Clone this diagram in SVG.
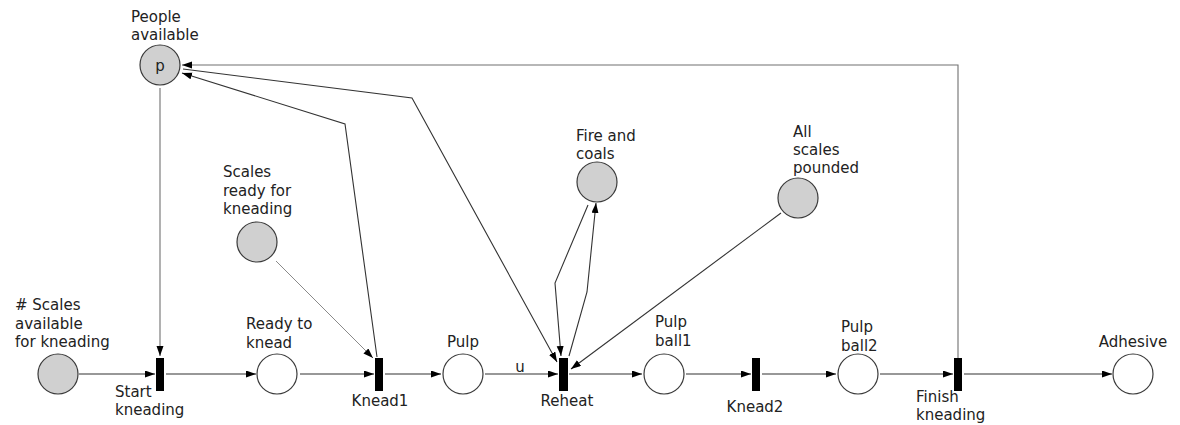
<svg xmlns="http://www.w3.org/2000/svg" width="1180" height="425" viewBox="0 0 1180 425">
<style>
.bg{fill:#ffffff}
.place{stroke:#3a3a3a;stroke-width:1.2;fill:#ffffff}
.res{fill:#d0d0d0}
.tr{fill:#000000}
.lbl{font-family:"DejaVu Sans",Verdana,sans-serif;font-size:15px;fill:#222222}
.mid{text-anchor:middle}
.arc{fill:none;stroke:#333333;stroke-width:1.1}
.gray{stroke:#707070}
.light{stroke:#8a8a8a;stroke-width:1}
</style>
<defs>
<marker id="ah" markerUnits="userSpaceOnUse" markerWidth="11" markerHeight="8" refX="10" refY="3.5" orient="auto">
<path d="M0,0 L10,3.5 L0,7 z" fill="#000000"/>
</marker>
</defs>
<rect class="bg" x="0" y="0" width="1180" height="425"/>

<g id="connectors">
<path class="arc" d="M79,374 H155" marker-end="url(#ah)"/>
<path class="arc gray" d="M160,88 V356" marker-end="url(#ah)"/>
<path class="arc" d="M166,374 H256" marker-end="url(#ah)"/>
<path class="arc" d="M300,374 H374" marker-end="url(#ah)"/>
<path class="arc light" d="M276,261 L373,358" marker-end="url(#ah)"/>
<path class="arc" d="M377,357 L345,124 L182,73" marker-end="url(#ah)"/>
<path class="arc" d="M385,374 H441" marker-end="url(#ah)"/>
<path class="arc" d="M485,374 H558" marker-end="url(#ah)"/>
<text class="lbl mid" x="520" y="372">u</text>
<path class="arc" d="M183,69 L412,98 L557,362" marker-end="url(#ah)"/>
<path class="arc" d="M588,205 L555,283 L561,356" marker-end="url(#ah)"/>
<path class="arc" d="M569,356 L587,292 L596,203" marker-end="url(#ah)"/>
<path class="arc" d="M781,213 L571,369" marker-end="url(#ah)"/>
<path class="arc" d="M569,374 H642" marker-end="url(#ah)"/>
<path class="arc" d="M686,374 H751" marker-end="url(#ah)"/>
<path class="arc" d="M762,374 H836" marker-end="url(#ah)"/>
<path class="arc" d="M880,374 H953" marker-end="url(#ah)"/>
<path class="arc gray" d="M958,358 V65 H182" marker-end="url(#ah)"/>
<path class="arc" d="M964,374 H1112" marker-end="url(#ah)"/>
</g>

<g id="people-available">
<circle class="place res" cx="160" cy="65" r="20"/>
<text class="lbl mid" x="160" y="71">p</text>
<text class="lbl" x="131" y="22">People</text>
<text class="lbl" x="131" y="40">available</text>
</g>
<g id="scales-available">
<circle class="place res" cx="58" cy="374" r="20"/>
<text class="lbl" x="15" y="310">#&#160;Scales</text>
<text class="lbl" x="15" y="328.5">available</text>
<text class="lbl" x="15" y="347">for kneading</text>
</g>
<g id="start-kneading">
<rect class="tr" x="156" y="358" width="8" height="33"/>
<text class="lbl" x="115" y="397">Start</text>
<text class="lbl" x="115" y="415">kneading</text>
</g>
<g id="ready-to-knead">
<circle class="place" cx="277" cy="374" r="20"/>
<text class="lbl" x="246" y="329">Ready to</text>
<text class="lbl" x="246" y="347.5">knead</text>
</g>
<g id="scales-ready">
<circle class="place res" cx="257" cy="242" r="20"/>
<text class="lbl" x="223" y="177">Scales</text>
<text class="lbl" x="223" y="196">ready for</text>
<text class="lbl" x="223" y="214">kneading</text>
</g>
<g id="knead1">
<rect class="tr" x="375" y="358" width="8" height="33"/>
<text class="lbl mid" x="380" y="406">Knead1</text>
</g>
<g id="pulp">
<circle class="place" cx="463" cy="374" r="20"/>
<text class="lbl mid" x="463" y="347">Pulp</text>
</g>
<g id="reheat">
<rect class="tr" x="559" y="358" width="9" height="33"/>
<text class="lbl mid" x="567" y="406">Reheat</text>
</g>
<g id="fire-and-coals">
<circle class="place res" cx="597" cy="182" r="20"/>
<text class="lbl" x="576" y="141">Fire and</text>
<text class="lbl" x="576" y="159">coals</text>
</g>
<g id="all-scales-pounded">
<circle class="place res" cx="798" cy="198" r="20"/>
<text class="lbl" x="793" y="137">All</text>
<text class="lbl" x="793" y="155">scales</text>
<text class="lbl" x="793" y="173">pounded</text>
</g>
<g id="pulp-ball1">
<circle class="place" cx="664" cy="374" r="20"/>
<text class="lbl" x="655" y="327">Pulp</text>
<text class="lbl" x="655" y="346">ball1</text>
</g>
<g id="knead2">
<rect class="tr" x="752" y="358" width="8" height="33"/>
<text class="lbl mid" x="755" y="412">Knead2</text>
</g>
<g id="pulp-ball2">
<circle class="place" cx="858" cy="374" r="20"/>
<text class="lbl" x="841" y="332">Pulp</text>
<text class="lbl" x="841" y="351">ball2</text>
</g>
<g id="finish-kneading">
<rect class="tr" x="954" y="358" width="8" height="33"/>
<text class="lbl" x="916" y="402">Finish</text>
<text class="lbl" x="916" y="420">kneading</text>
</g>
<g id="adhesive">
<circle class="place" cx="1133" cy="374" r="20"/>
<text class="lbl mid" x="1133" y="347">Adhesive</text>
</g>
</svg>
